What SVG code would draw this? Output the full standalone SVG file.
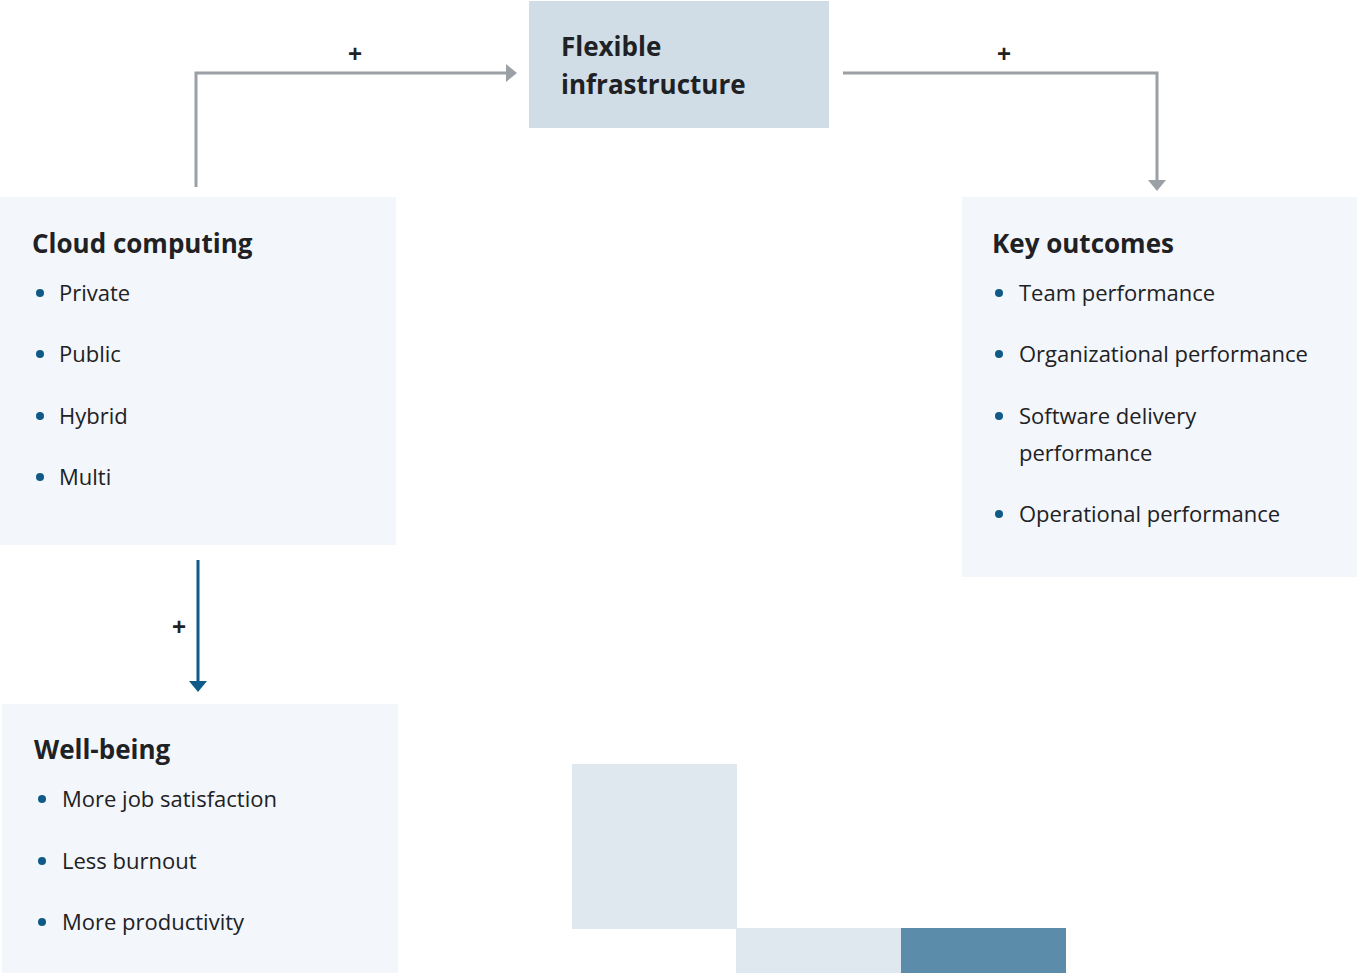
<svg xmlns="http://www.w3.org/2000/svg" width="1357" height="973" viewBox="0 0 1357 973">
<style>
.box{fill:#f3f6fa}
.title{font-family:"Open Sans","Liberation Sans",sans-serif;font-weight:700;font-size:26px;fill:#202124}
.item{font-family:"Open Sans","Liberation Sans",sans-serif;font-size:22px;fill:#202124}
.dot{fill:#0f5a87}
.plus{font-family:"Liberation Sans",sans-serif;font-weight:700;font-size:24px;fill:#202124;text-anchor:middle}
.gray{fill:none;stroke:#9aa0a6;stroke-width:3}
.blue{fill:none;stroke:#0f5a87;stroke-width:3}
</style>
<defs>
<marker id="ag" markerUnits="userSpaceOnUse" markerWidth="20" markerHeight="20" refX="0" refY="9" orient="auto"><path d="M0,0 L11,9 L0,18 Z" fill="#9aa0a6"/></marker>
<marker id="ab" markerUnits="userSpaceOnUse" markerWidth="20" markerHeight="20" refX="0" refY="9" orient="auto"><path d="M0,0 L11,9 L0,18 Z" fill="#0f5a87"/></marker>
</defs>
<rect width="1357" height="973" fill="#ffffff"/>
<g id="decor">
<rect x="572" y="764" width="165" height="165" fill="#dfe7ef"/>
<rect x="736" y="928" width="165" height="45" fill="#dfe7ef"/>
<rect x="901" y="928" width="165" height="45" fill="#5b8caa"/>
</g>
<g id="connectors">
<path class="gray" d="M196,187 V73 H506" marker-end="url(#ag)"/>
<path class="gray" d="M843,73 H1157 V180" marker-end="url(#ag)"/>
<path class="blue" d="M198,560 V681" marker-end="url(#ab)"/>
<text class="plus" x="355" y="62">+</text>
<text class="plus" x="1004" y="62">+</text>
<text class="plus" x="179" y="635">+</text>
</g>
<g id="flexible">
<rect x="529" y="1" width="300" height="127" fill="#d0dde6"/>
<text class="title" x="561" y="56">Flexible</text>
<text class="title" x="561" y="94">infrastructure</text>
</g>
<g id="cloud">
<rect class="box" x="0" y="197" width="396" height="348"/>
<text class="title" x="32" y="253">Cloud computing</text>
<circle class="dot" cx="40" cy="293" r="4"/><text class="item" x="59" y="301">Private</text>
<circle class="dot" cx="40" cy="354" r="4"/><text class="item" x="59" y="362">Public</text>
<circle class="dot" cx="40" cy="416" r="4"/><text class="item" x="59" y="424">Hybrid</text>
<circle class="dot" cx="40" cy="477" r="4"/><text class="item" x="59" y="485">Multi</text>
</g>
<g id="outcomes">
<rect class="box" x="962" y="197" width="395" height="380"/>
<text class="title" x="992" y="253">Key outcomes</text>
<circle class="dot" cx="999" cy="293" r="4"/><text class="item" x="1019" y="301">Team performance</text>
<circle class="dot" cx="999" cy="354" r="4"/><text class="item" x="1019" y="362">Organizational performance</text>
<circle class="dot" cx="999" cy="416" r="4"/><text class="item" x="1019" y="424">Software delivery</text>
<text class="item" x="1019" y="461">performance</text>
<circle class="dot" cx="999" cy="514" r="4"/><text class="item" x="1019" y="522">Operational performance</text>
</g>
<g id="wellbeing">
<rect class="box" x="2" y="704" width="396" height="269"/>
<text class="title" x="34" y="759">Well-being</text>
<circle class="dot" cx="42" cy="799" r="4"/><text class="item" x="62" y="807">More job satisfaction</text>
<circle class="dot" cx="42" cy="861" r="4"/><text class="item" x="62" y="869">Less burnout</text>
<circle class="dot" cx="42" cy="922" r="4"/><text class="item" x="62" y="930">More productivity</text>
</g>
</svg>
